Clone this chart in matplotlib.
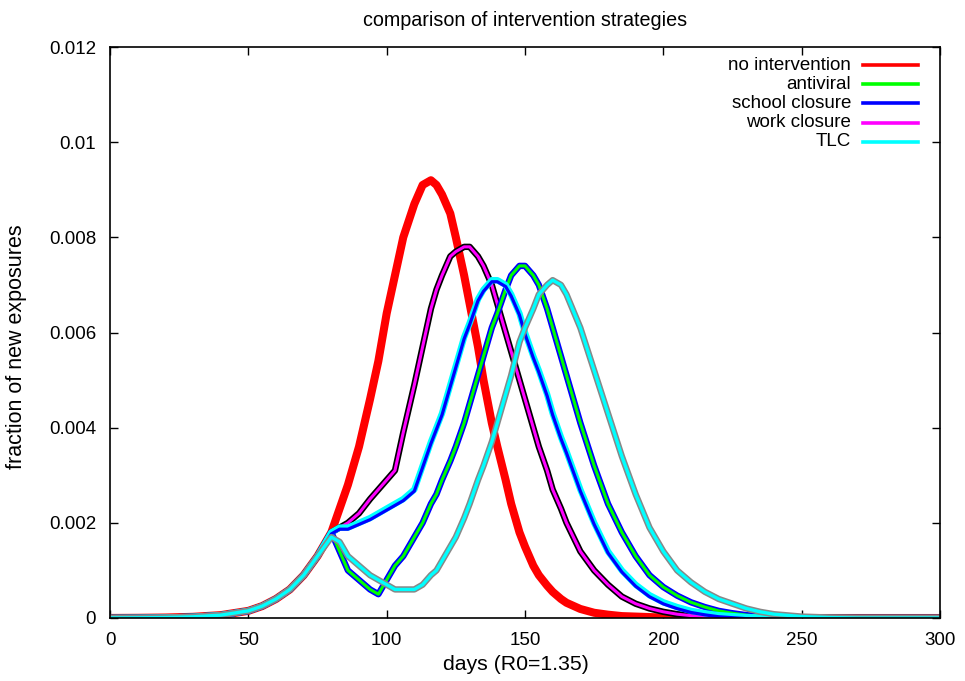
import matplotlib
matplotlib.use("Agg")
import matplotlib.pyplot as plt
import matplotlib.transforms as mtransforms

plt.rcParams['font.family'] = ['Liberation Sans', 'DejaVu Sans']

# sample days (finer around the intervention start and the peaks)
days = [0, 10, 20, 30, 40, 50, 55, 60, 65, 70, 75, 80,
        83, 86, 90, 94, 97, 100, 103, 106,
        110, 113, 116, 118, 120, 123, 125, 128, 130, 133, 135, 138, 140,
        143, 145, 148, 150, 153, 155, 158, 160, 163, 165,
        170, 175, 180, 185, 190, 195, 200, 205, 210, 215, 220, 225, 230, 235, 240,
        250, 260, 270, 280, 290, 300]

# shared growth phase before any intervention starts (days 0..80)
early = [0.000001, 0.000004, 0.00001, 0.000025, 0.00006, 0.00015, 0.00025,
         0.0004, 0.0006, 0.0009, 0.0013, 0.0018]

no_intervention = early + [
    0.0023, 0.0028, 0.0036, 0.0046, 0.0054, 0.0064, 0.0072, 0.0080,
    0.0087, 0.0091, 0.0092, 0.0091, 0.0089, 0.0085, 0.0080, 0.0072, 0.0066, 0.0057, 0.0050, 0.0041, 0.0036,
    0.0029, 0.0024, 0.0018, 0.0015, 0.0011, 0.0009, 0.00068, 0.00055, 0.0004, 0.00032,
    0.00019, 0.00011, 0.00007, 0.00004, 0.00003, 0.00002, 0.00001, 0.00001, 0.00001, 0.00001, 0.00001,
    0.00001, 0.00001, 0.00001, 0.0,
    0.0, 0.0, 0.0, 0.0, 0.0, 0.0]

work_closure = early + [
    0.0019, 0.0020, 0.0022, 0.0025, 0.0027, 0.0029, 0.0031, 0.0039,
    0.0049, 0.0057, 0.0065, 0.0069, 0.0072, 0.0076, 0.0077, 0.0078, 0.0078, 0.0076, 0.0074, 0.0070, 0.0066,
    0.0060, 0.0056, 0.0050, 0.0046, 0.0040, 0.0036, 0.0031, 0.0027, 0.0023, 0.0020,
    0.0014, 0.0010, 0.0007, 0.00045, 0.0003, 0.0002, 0.00013, 0.00008, 0.00005, 0.00003, 0.00002,
    0.00001, 0.00001, 0.00001, 0.0,
    0.0, 0.0, 0.0, 0.0, 0.0, 0.0]

school_closure = early + [
    0.0019, 0.0019, 0.0020, 0.0021, 0.0022, 0.0023, 0.0024, 0.0025,
    0.0027, 0.0032, 0.0037, 0.0040, 0.0043, 0.0049, 0.0053, 0.0059, 0.0062, 0.0067, 0.0069, 0.0071, 0.0071,
    0.0070, 0.0068, 0.0064, 0.0060, 0.0055, 0.0052, 0.0047, 0.0043, 0.0038, 0.0035,
    0.0027, 0.0020, 0.0014, 0.0010, 0.0007, 0.00048, 0.00033, 0.00023, 0.00015, 0.0001, 0.00006,
    0.00004, 0.00002, 0.00001, 0.00001,
    0.0, 0.0, 0.0, 0.0, 0.0, 0.0]

antiviral = early + [
    0.0014, 0.0010, 0.0008, 0.0006, 0.0005, 0.0008, 0.0011, 0.0013,
    0.0017, 0.0020, 0.0024, 0.0026, 0.0029, 0.0033, 0.0036, 0.0041, 0.0045, 0.0051, 0.0055, 0.0061, 0.0064,
    0.0069, 0.0072, 0.0074, 0.0074, 0.0072, 0.0070, 0.0065, 0.0061, 0.0055, 0.0051,
    0.0041, 0.0032, 0.0024, 0.0018, 0.0013, 0.0009, 0.00065, 0.00047, 0.00033, 0.00023, 0.00015,
    0.0001, 0.00006, 0.00004, 0.00002,
    0.00001, 0.0, 0.0, 0.0, 0.0, 0.0]

tlc = early[:-1] + [0.0017] + [
    0.0016, 0.0013, 0.0011, 0.0009, 0.0008, 0.0007, 0.0006, 0.0006,
    0.0006, 0.0007, 0.0009, 0.0010, 0.0012, 0.0015, 0.0017, 0.0021, 0.0024, 0.0029, 0.0032, 0.0037, 0.0041,
    0.0047, 0.0051, 0.0058, 0.0061, 0.0065, 0.0068, 0.0070, 0.0071, 0.0070, 0.0068,
    0.0061, 0.0052, 0.0043, 0.0034, 0.0026, 0.0019, 0.0014, 0.0010, 0.00075, 0.00055, 0.0004,
    0.0003, 0.0002, 0.00013, 0.00008,
    0.00003, 0.00001, 0.0, 0.0, 0.0, 0.0]

legend_labels = ["no intervention", "antiviral", "school closure", "work closure", "TLC"]
legend_colors = ["#ff0000", "#00ff00", "#0000ff", "#ff00ff", "#00ffff"]

xticks = [0, 50, 100, 150, 200, 250, 300]
yticks = [0, 0.002, 0.004, 0.006, 0.008, 0.01, 0.012]
ytick_labels = ["0", "0.002", "0.004", "0.006", "0.008", "0.01", "0.012"]

fs = 13.5
fig = plt.figure(figsize=(9.65, 6.81), dpi=100)
ax = fig.add_axes([110 / 965, 63 / 681, 830 / 965, 571 / 681])

ax.plot(days, no_intervention, color="#ff0000", lw=5.8)

ax.plot(days, work_closure, color="black", lw=4.6)
ax.plot(days, work_closure, color="#ff00ff", lw=2.2)

ax.plot(days, antiviral, color="#0000ff", lw=4.6)
ax.plot(days, antiviral, color="#00ff00", lw=2.2)

# blue drawn slightly below the cyan band
shift_down = mtransforms.offset_copy(ax.transData, fig=fig, x=0, y=-1.6, units="dots")
ax.plot(days, school_closure, color="#00ffff", lw=4.6)
ax.plot(days, school_closure, color="#0000ff", lw=2.3, transform=shift_down)

ax.plot(days, tlc, color="#888888", lw=4.6)
ax.plot(days, tlc, color="#00ffff", lw=2.4)

ax.set_xlim(0, 300)
ax.set_ylim(0, 0.012)
ax.set_xticks(xticks)
ax.set_xticklabels([str(t) for t in xticks], fontsize=fs)
ax.set_yticks(yticks)
ax.set_yticklabels(ytick_labels, fontsize=fs)
ax.tick_params(direction="in", length=6, width=1, top=True, right=True, pad=10)
for sp in ax.spines.values():
    sp.set_linewidth(1.2)

ax.set_xlabel("days (R0=1.35)", fontsize=15.3)
ax.xaxis.set_label_coords(0.489, -0.064)
ax.set_ylabel("fraction of new exposures", fontsize=15.5)
ax.yaxis.set_label_coords(-0.1, 0.476)
ax.set_title("comparison of intervention strategies", fontsize=14.2, pad=15)

# key in the upper right, text to the left of each sample line
for i, (lab, col) in enumerate(zip(legend_labels, legend_colors)):
    yf = 1 - (65 + 19.2 * i - 47) / 571
    ax.text(0.893, yf, lab, transform=ax.transAxes, ha="right", va="center", fontsize=fs)
    ax.plot([0.907, 0.973], [yf, yf], transform=ax.transAxes, color=col, lw=2.6, clip_on=False)

fig.savefig("out.png", dpi=100)
